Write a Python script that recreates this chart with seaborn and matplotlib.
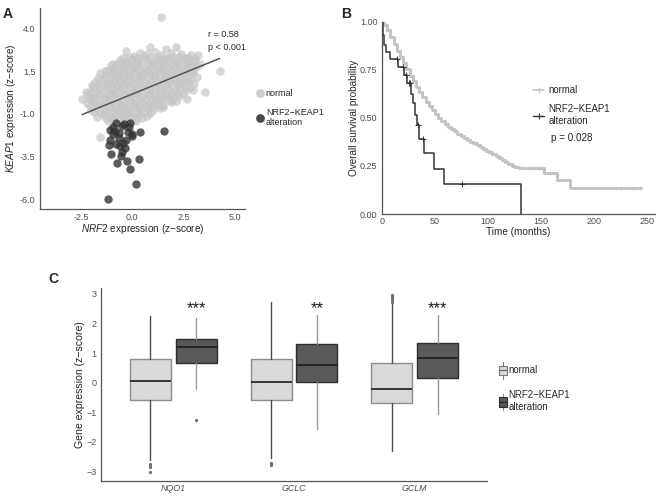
import numpy as np
import pandas as pd
import matplotlib
matplotlib.use('Agg')
import matplotlib.pyplot as plt
import seaborn as sns
from matplotlib.lines import Line2D
from matplotlib.patches import Rectangle, Patch
from matplotlib.legend_handler import HandlerBase
from matplotlib.ticker import FormatStrFormatter

# ---- panel A: NRF2 vs KEAP1 expression ----
normal_x = [1.38, -0.3, 0.85, 1.65, 2.15,
            0.38, 0.1, 0.7, 1.1, 1.4, 1.9, 2.4, 2.85, 3.2, 2.6,
            -0.45, -0.15, 0.25, 0.55, 0.85, 1.25, 1.6, 2.0, 2.3, 2.7, 3.05,
            -0.92, -0.6, -0.3, 0.0, 0.3, 0.6, 0.9, 1.2, 1.5, 1.8, 2.1, 2.4, 2.7, 3.0, 3.3,
            -1.05, -0.75, -0.45, -0.15, 0.15, 0.45, 0.75, 1.05, 1.35, 1.65, 1.95, 2.25, 2.55, 2.85, 3.15,
            -1.2, -0.9, -0.6, -0.3, 0.0, 0.3, 0.6, 0.9, 1.2, 1.5, 1.8, 2.1, 2.4, 2.7, 3.0, 4.26,
            -1.35, -1.05, -0.75, -0.45, -0.15, 0.15, 0.45, 0.75, 1.05, 1.35, 1.65, 1.95, 2.25, 2.55, 2.85,
            -1.56, -1.3, -1.0, -0.7, -0.4, -0.1, 0.2, 0.5, 0.8, 1.1, 1.4, 1.7, 2.0, 2.3, 2.6, 2.9, 3.15,
            -1.65, -1.35, -1.05, -0.75, -0.45, -0.15, 0.15, 0.45, 0.75, 1.05, 1.35, 1.65, 1.95, 2.25, 2.55, 2.85,
            -1.8, -1.5, -1.2, -0.9, -0.6, -0.3, 0.0, 0.3, 0.6, 0.9, 1.2, 1.5, 1.8, 2.1, 2.4, 2.7, 3.0,
            -1.95, -1.65, -1.35, -1.05, -0.75, -0.45, -0.15, 0.15, 0.45, 0.75, 1.05, 1.35, 1.65, 1.95, 2.25, 2.55, 2.8,
            -2.05, -1.9, -1.6, -1.3, -1.0, -0.7, -0.4, -0.1, 0.2, 0.5, 0.8, 1.1, 1.4, 1.7, 2.0, 2.3, 2.6, 2.97, 3.53,
            -2.25, -1.95, -1.65, -1.35, -1.05, -0.75, -0.45, -0.15, 0.15, 0.45, 0.75, 1.05, 1.35, 1.65, 1.95, 2.25, 2.5,
            -2.45, -2.2, -1.9, -1.6, -1.3, -1.0, -0.7, -0.4, -0.1, 0.2, 0.5, 0.8, 1.1, 1.4, 1.7, 2.0, 2.3, 2.65,
            -2.05, -1.75, -1.45, -1.15, -0.85, -0.55, -0.25, 0.05, 0.35, 0.65, 0.95, 1.25, 1.55, 1.85, 2.15,
            -2.2, -1.9, -1.6, -1.3, -1.0, -0.7, -0.4, -0.1, 0.2, 0.5, 0.8, 1.1, 1.5, 1.9,
            -2.05, -1.75, -1.45, -1.15, -0.85, -0.55, -0.25, 0.05, 0.35, 0.65, 0.95, 1.25,
            -2.0, -1.7, -1.4, -1.1, -0.8, -0.5, -0.2, 0.1, 0.4, 0.7, 1.0, 1.35,
            -1.85, -1.55, -1.25, -0.95, -0.65, -0.35, -0.05, 0.25, 0.55, 0.85,
            -1.72, -1.4, -1.1, -0.8, -0.5, -0.2, 0.1, 0.4, 0.7, 1.51,
            -1.3, -1.0, -0.7, -0.4, -0.1, 0.2, 0.5,
            -1.2, -0.9, -0.3, 0.2, -1.56]
normal_y = [4.68, 2.69, 2.92, 2.83, 2.92,
            2.54, 2.4, 2.5, 2.6, 2.45, 2.55, 2.5, 2.44, 2.44, 2.3,
            2.3, 2.35, 2.3, 2.38, 2.32, 2.36, 2.3, 2.36, 2.32, 2.25, 2.28,
            1.95, 2.15, 2.05, 2.2, 2.1, 2.25, 2.05, 2.2, 2.1, 2.25, 2.05, 2.15, 2.0, 2.1, 1.95,
            1.88, 1.92, 1.9, 1.95, 1.88, 1.93, 1.9, 1.95, 1.88, 1.92, 1.9, 1.95, 1.88, 1.85, 1.8,
            1.6, 1.75, 1.65, 1.8, 1.7, 1.85, 1.65, 1.8, 1.7, 1.85, 1.7, 1.8, 1.65, 1.75, 1.6, 1.52,
            1.5, 1.52, 1.48, 1.55, 1.5, 1.55, 1.48, 1.52, 1.5, 1.55, 1.48, 1.52, 1.5, 1.45, 1.5,
            1.37, 1.25, 1.35, 1.2, 1.4, 1.3, 1.45, 1.25, 1.4, 1.3, 1.45, 1.25, 1.4, 1.3, 1.2, 1.35, 1.15,
            1.1, 1.12, 1.08, 1.15, 1.1, 1.12, 1.08, 1.15, 1.1, 1.12, 1.08, 1.15, 1.1, 1.1, 1.05, 1.0,
            0.85, 0.95, 0.8, 1.0, 0.85, 0.95, 0.8, 1.0, 0.85, 0.95, 0.8, 1.0, 0.85, 0.95, 0.8, 0.9, 0.75,
            0.7, 0.72, 0.68, 0.75, 0.7, 0.72, 0.68, 0.75, 0.7, 0.72, 0.68, 0.75, 0.7, 0.72, 0.68, 0.65, 0.6,
            0.3, 0.55, 0.45, 0.6, 0.4, 0.55, 0.45, 0.6, 0.4, 0.55, 0.45, 0.6, 0.4, 0.5, 0.35, 0.5, 0.4, 0.39, 0.29,
            0.3, 0.28, 0.32, 0.25, 0.3, 0.28, 0.32, 0.25, 0.3, 0.28, 0.32, 0.25, 0.3, 0.22, 0.25, 0.2, 0.18,
            -0.1, 0.1, 0.0, 0.15, 0.05, 0.2, 0.0, 0.15, 0.05, 0.2, 0.0, 0.1, 0.05, -0.05, 0.1, -0.1, 0.05, -0.1,
            -0.12, -0.08, -0.1, -0.12, -0.08, -0.1, -0.12, -0.08, -0.1, -0.15, -0.12, -0.18, -0.15, -0.2, -0.22,
            -0.35, -0.25, -0.4, -0.2, -0.35, -0.25, -0.4, -0.2, -0.35, -0.25, -0.4, -0.3, -0.45, -0.3,
            -0.52, -0.5, -0.55, -0.48, -0.52, -0.5, -0.55, -0.48, -0.52, -0.5, -0.55, -0.5,
            -0.75, -0.65, -0.8, -0.6, -0.75, -0.65, -0.8, -0.6, -0.75, -0.65, -0.8, -0.68,
            -0.9, -0.88, -0.92, -0.88, -0.9, -0.92, -0.88, -0.9, -0.88, -0.92,
            -1.17, -1.05, -1.15, -1.0, -1.1, -1.0, -1.15, -1.05, -1.1, -0.62,
            -1.25, -1.28, -1.22, -1.28, -1.25, -1.22, -1.25,
            -1.4, -1.35, -1.45, -1.4, -2.34]
alt_x = [-0.78, -0.11, -0.51, -1.08, -0.83, -0.67, -0.19, -0.02, 0.38, 1.56,
         -1.08, -0.67, -1.11, -0.79, -0.59, -0.35, -0.51, -1.03, -0.54, 0.34,
         -0.75, -0.27, -0.11, 0.18, -1.19, -0.95, -0.4, -0.15, 0.0, -0.3, -0.45, -0.95]
alt_y = [-1.52, -1.52, -1.71, -1.95, -1.99, -2.14, -2.05, -2.18, -2.08, -2.0,
         -2.53, -2.43, -2.82, -2.78, -2.88, -2.98, -3.22, -3.37, -3.47, -3.64,
         -3.86, -3.74, -4.23, -5.09, -6.0, -1.75, -1.6, -1.75, -2.3, -2.5, -2.7, -2.15]
fit_slope, fit_intercept = 0.49, 0.16

# ---- panel B: Kaplan-Meier ----
km_norm_t = [0, 2, 5, 8, 11, 14, 17, 20, 23, 26, 29, 32, 35, 38, 41, 44, 47, 50, 53, 56, 59, 62,
             65, 68, 71, 74, 77, 80, 83, 86, 89, 92, 95, 98, 101, 104, 107, 110, 113, 116, 119,
             122, 125, 129, 153, 165, 177, 244]
km_norm_s = [1.0, 0.985, 0.955, 0.92, 0.885, 0.85, 0.815, 0.785, 0.755, 0.72, 0.69, 0.66, 0.635,
             0.61, 0.585, 0.56, 0.54, 0.52, 0.5, 0.485, 0.47, 0.455, 0.44, 0.43, 0.415, 0.405,
             0.395, 0.385, 0.375, 0.37, 0.36, 0.35, 0.34, 0.33, 0.32, 0.31, 0.3, 0.29, 0.28, 0.27,
             0.26, 0.252, 0.245, 0.239, 0.213, 0.178, 0.135, 0.135]
km_norm_cens = [45, 62, 70, 78, 84, 86, 88, 95, 100, 104, 108, 112, 118, 124, 133, 138, 143,
                148, 151, 158, 225, 236, 243]
km_alt_t = [0, 1, 2, 4, 8, 15, 21, 24, 27, 29, 31, 33, 35, 40, 49, 58, 131]
km_alt_s = [1.0, 0.93, 0.88, 0.84, 0.805, 0.765, 0.725, 0.68, 0.625, 0.575, 0.515, 0.465, 0.39,
            0.315, 0.235, 0.157, 0.0]
km_alt_cens = [14, 20, 23, 25, 26, 34, 39, 75]

# ---- panel C: box plots ----
genes = ['NQO1', 'GCLC', 'GCLM']
stats_normal = [  # whislo, q1, med, q3, whishi, outliers
    (-2.6, -0.58, 0.05, 0.80, 2.26, [-2.75, -2.8, -2.85, -3.02]),
    (-2.55, -0.60, 0.01, 0.80, 2.74, [-2.7, -2.74, -2.78]),
    (-2.3, -0.69, -0.22, 0.67, 2.7, [2.74, 2.8, 2.86, 2.92, 2.95]),
]
stats_alt = [
    (-0.22, 0.66, 1.22, 1.47, 2.2, [-1.26]),
    (-1.55, 0.02, 0.61, 1.30, 2.29, []),
    (-1.05, 0.15, 0.83, 1.34, 2.28, []),
]
stars = ['***', '**', '***']

# ------------------------------------------------------------------
sns.set_style('white')
plt.rcParams['font.family'] = ['Liberation Sans', 'DejaVu Sans']
plt.rcParams['mathtext.fontset'] = 'custom'
plt.rcParams['mathtext.it'] = 'Liberation Sans:italic'
plt.rcParams['mathtext.rm'] = 'Liberation Sans'

TXT = '#4d4d4d'
SPINE = '#555555'
LBL = 'NRF2\u2212KEAP1\nalteration'

fig = plt.figure(figsize=(6.58, 4.96), dpi=100)


def style(ax, fs=6.5):
    sns.despine(ax=ax)
    for s in ['left', 'bottom']:
        ax.spines[s].set_color(SPINE)
        ax.spines[s].set_linewidth(0.9)
    ax.tick_params(axis='both', length=2.2, width=0.7, color=SPINE,
                   labelsize=fs, labelcolor=TXT, pad=1, direction='out')
    ax.grid(False)


# panel A
axA = fig.add_axes([0.0608, 0.5786, 0.3115, 0.4052])
dfA = pd.DataFrame({'x': normal_x + alt_x, 'y': normal_y + alt_y,
                    'g': ['normal'] * len(normal_x) + ['alt'] * len(alt_x)})
sns.scatterplot(data=dfA[dfA.g == 'normal'], x='x', y='y', color='#c6c6c6', alpha=0.7,
                s=38, linewidth=0, ax=axA, legend=False)
sns.scatterplot(data=dfA[dfA.g == 'alt'], x='x', y='y', color='#333333', alpha=0.8,
                s=36, linewidth=0, ax=axA, legend=False)
fx = np.array([dfA.x.min(), dfA.x.max()])
axA.plot(fx, fit_intercept + fit_slope * fx, color='#555555', lw=1.1)
axA.set_xlim(-4.5, 5.5)
axA.set_ylim(-6.57, 5.2)
axA.set_xticks([-2.5, 0.0, 2.5, 5.0])
axA.set_yticks([-6.0, -3.5, -1.0, 1.5, 4.0])
axA.xaxis.set_major_formatter(FormatStrFormatter('%.1f'))
axA.yaxis.set_major_formatter(FormatStrFormatter('%.1f'))
style(axA)
axA.set_xlabel('$\\mathit{NRF2}$ expression (z\u2212score)', fontsize=7.2, labelpad=0)
axA.set_ylabel('$\\mathit{KEAP1}$ expression (z\u2212score)', fontsize=7.2, labelpad=1.5)
axA.text(3.72, 3.67, 'r = 0.58', fontsize=6.5, va='center')
axA.text(3.72, 2.9, 'p < 0.001', fontsize=6.5, va='center')
hA = [Line2D([], [], ls='', marker='o', ms=6.3, mew=0, color='#cdcdcd'),
      Line2D([], [], ls='', marker='o', ms=6.3, mew=0, color='#4a4a4a')]
fig.legend(hA, ['normal', LBL], loc='upper left', bbox_to_anchor=(0.389, 0.82),
           frameon=False, fontsize=6.5, handlelength=0.8, handletextpad=0.3,
           labelspacing=1.05, borderpad=0, borderaxespad=0)

# panel B
axB = fig.add_axes([0.5805, 0.5685, 0.4149, 0.3877])


def step_at(ts, ss, t):
    i = np.searchsorted(np.array(ts), t, side='right') - 1
    return np.array(ss)[i]


for ts, ss, cens, col, lw, ms in [(km_norm_t, km_norm_s, km_norm_cens, '#c4c4c4', 2.2, 3),
                                  (km_alt_t, km_alt_s, km_alt_cens, '#333333', 1.1, 4)]:
    dfk = pd.DataFrame({'t': ts, 's': ss})
    sns.lineplot(data=dfk, x='t', y='s', drawstyle='steps-post', color=col, lw=lw,
                 ax=axB, estimator=None, sort=False)
    ct = np.array(cens)
    axB.plot(ct, step_at(ts, ss, ct), ls='', marker='+', ms=ms, mew=0.7, color=col)
axB.set_xlim(0, 257)
axB.set_ylim(0, 1.0)
axB.set_xticks([0, 50, 100, 150, 200, 250])
axB.set_yticks([0, 0.25, 0.5, 0.75, 1.0])
axB.yaxis.set_major_formatter(FormatStrFormatter('%.2f'))
style(axB)
axB.tick_params(axis='x', pad=0.3)
axB.set_xlabel('Time (months)', fontsize=7.2, labelpad=0.5)
axB.set_ylabel('Overall survival probability', fontsize=7.2, labelpad=0.5)
hB = [Line2D([], [], color='#c4c4c4', lw=1.2, marker='+', ms=4, mew=0.8),
      Line2D([], [], color='#333333', lw=1.0, marker='+', ms=4, mew=0.8)]
fig.legend(hB, ['normal', LBL], loc='upper left', bbox_to_anchor=(0.81, 0.828),
           frameon=False, fontsize=6.9, handlelength=1.2, handletextpad=0.4,
           labelspacing=0.95, borderpad=0, borderaxespad=0)
fig.text(0.838, 0.722, 'p = 0.028', fontsize=7.1, va='center')

# panel C
axC = fig.add_axes([0.1535, 0.031, 0.5866, 0.3885])
off, bw = 0.19, 0.34
for grp, stats, face, edge, whisk, med, sign in [
        ('normal', stats_normal, '#d9d9d9', '#8c8c8c', '#4d4d4d', '#333333', -1),
        ('alt', stats_alt, '#595959', '#2e2e2e', '#9a9a9a', '#262626', 1)]:
    bxp = [dict(whislo=a, q1=b, med=c, q3=d, whishi=e, fliers=f) for a, b, c, d, e, f in stats]
    pos = [i + sign * off for i in range(len(genes))]
    axC.bxp(bxp, positions=pos, widths=bw, patch_artist=True, showcaps=False,
            boxprops=dict(facecolor=face, edgecolor=edge, linewidth=1.0),
            whiskerprops=dict(color=whisk, linewidth=1.0),
            medianprops=dict(color=med, linewidth=1.4),
            flierprops=dict(marker='o', markersize=2.3, markerfacecolor='#6e6e6e',
                            markeredgecolor='none'))
for i, st in enumerate(stars):
    axC.text(i + off, 2.5, st, ha='center', va='center', fontsize=12, color='#1a1a1a')
axC.set_xlim(-0.6, 2.6)
axC.set_ylim(-3.31, 3.2)
axC.set_xticks(range(len(genes)))
axC.set_xticklabels(genes, fontstyle='italic')
axC.set_yticks([-3, -2, -1, 0, 1, 2, 3])
style(axC)
axC.tick_params(axis='x', labelsize=6.4, pad=0.5, length=2)
axC.set_ylabel('Gene expression (z\u2212score)', fontsize=7.6, labelpad=1)


class BoxKey(HandlerBase):
    def create_artists(self, legend, orig, xd, yd, width, height, fontsize, trans):
        cx = -xd + width / 2
        y0 = -yd
        w = width
        box = Rectangle((cx - w / 2, y0 + height * 0.22), w, height * 0.56,
                        facecolor=orig.get_facecolor(), edgecolor=orig.get_edgecolor(),
                        lw=0.8, transform=trans)
        lo = Line2D([cx, cx], [y0, y0 + height * 0.22], color=orig.whisk, lw=0.8, transform=trans)
        hi = Line2D([cx, cx], [y0 + height * 0.78, y0 + height], color=orig.whisk, lw=0.8,
                    transform=trans)
        md = Line2D([cx - w / 2, cx + w / 2], [y0 + height * 0.5] * 2, color=orig.med, lw=0.9,
                    transform=trans)
        return [lo, hi, box, md]


p1 = Patch(facecolor='#d9d9d9', edgecolor='#7a7a7a')
p1.whisk, p1.med = '#7a7a7a', '#6a6a6a'
p2 = Patch(facecolor='#595959', edgecolor='#2e2e2e')
p2.whisk, p2.med = '#8a8a8a', '#262626'
fig.legend([p1, p2], ['normal', LBL], loc='upper left', bbox_to_anchor=(0.758, 0.27),
           frameon=False, fontsize=6.9, handlelength=0.85, handleheight=2.3,
           handletextpad=0.15, labelspacing=1.2, borderpad=0, borderaxespad=0,
           handler_map={Patch: BoxKey()})

# panel letters
for x, y, s in [(0.004, 0.985, 'A'), (0.518, 0.985, 'B'), (0.073, 0.452, 'C')]:
    fig.text(x, y, s, fontsize=10, fontweight='bold', va='top', ha='left')

fig.savefig('out.png', dpi=100)
